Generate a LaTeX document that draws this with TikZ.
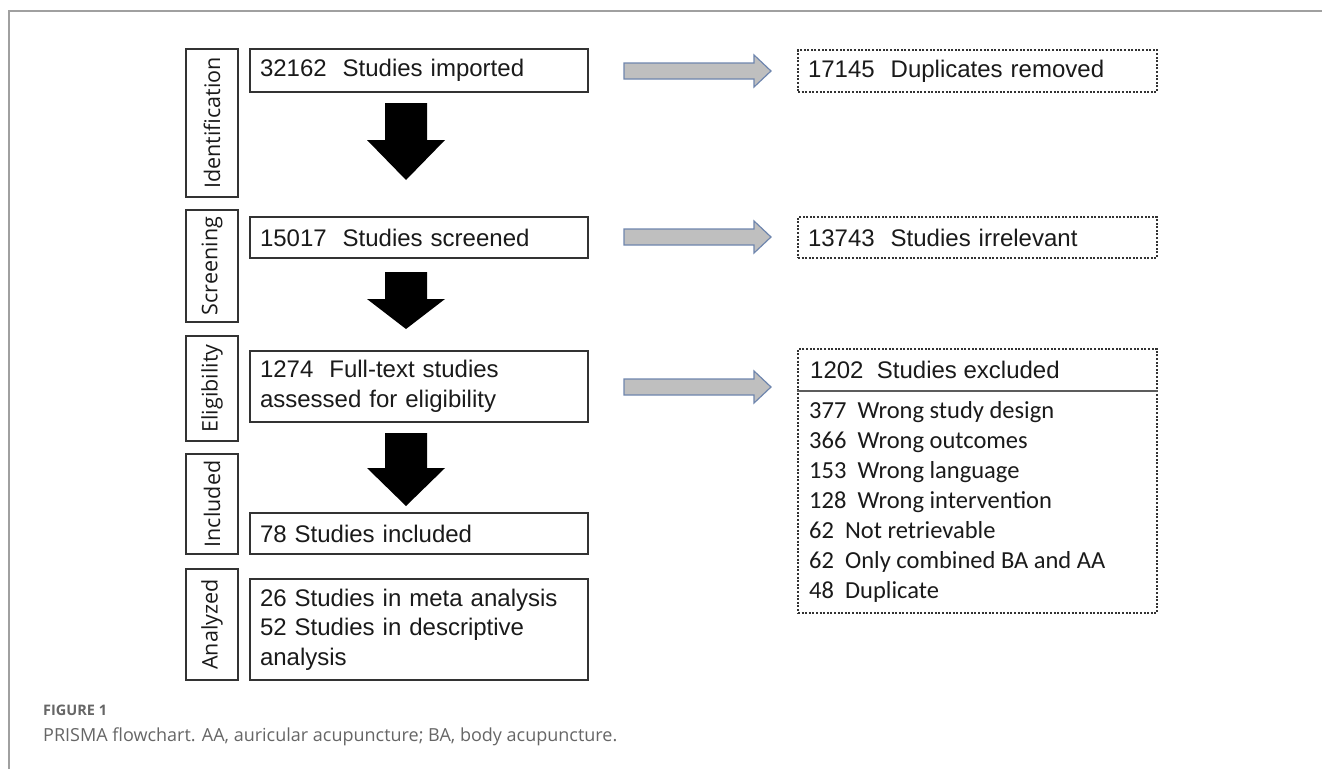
\documentclass[tikz,border=0pt]{standalone}
\usepackage{fontspec}
\setmainfont{Liberation Sans}
\newfontfamily\labfont{Open Sans}
\newfontfamily\listfont{Carlito}
\newfontfamily\capfont{Open Sans}
\definecolor{boxline}{HTML}{333333}
\definecolor{arrfill}{HTML}{BFBFBF}
\definecolor{arrline}{HTML}{6F86AE}
\definecolor{framecol}{HTML}{A0A0A0}
\definecolor{captext}{HTML}{666666}
\definecolor{txt}{HTML}{1A1A1A}
\tikzset{
  mainbox/.style={draw=boxline, line width=1.4pt, minimum width=338pt, text width=318pt,
    inner xsep=10pt, inner ysep=0pt, align=left, text=txt,
    font=\fontsize{24}{29.5}\selectfont},
  labelbox/.style={draw=boxline, line width=1.4pt, rotate=90, minimum height=52pt,
    inner sep=0pt, text=txt, font=\labfont\fontsize{21.5}{24}\selectfont},
  exclbox/.style={draw=boxline, line width=1.6pt, dash pattern=on 2pt off 1.6pt,
    minimum width=359pt, text width=339pt, inner xsep=10pt, inner ysep=0pt,
    align=left, text=txt, font=\fontsize{24}{29.5}\selectfont},
  grayarr/.style={fill=arrfill, draw=arrline, line width=1.2pt, line join=miter},
  blackarr/.style={fill=black, draw=none},
  captxt/.style={anchor=west, inner sep=0pt, text=captext}
}
\newcommand\grayarrow[1]{%
  \draw[grayarr] (624,#1-8) -- (754,#1-8) -- (754,#1-16) -- (771,#1) -- (754,#1+16)
    -- (754,#1+8) -- (624,#1+8) -- cycle;}
\newcommand\blackarrow[3]{%
  \fill[blackarr] (385,#1) -- (427,#1) -- (427,#2) -- (445,#2) -- (406,#3)
    -- (367,#2) -- (385,#2) -- cycle;}
\begin{document}
\begin{tikzpicture}[x=1pt,y=-1pt]
\useasboundingbox (0,0) rectangle (1322,769);
\fill[white] (0,0) rectangle (1322,769);
% frame
\draw[framecol, line width=1.3pt] (9,769) -- (9,11) -- (1322,11);

% stage labels
\node[labelbox, minimum width=148pt] (lid) at (212,123) {Identification};
\node[labelbox, minimum width=112pt] (lsc) at (212,266) {Screening};
\node[labelbox, minimum width=105pt] (lel) at (212,388.5) {Eligibility};
\node[labelbox, minimum width=100pt] (lin) at (212,504) {Included};
\node[labelbox, minimum width=111pt] (lan) at (212,624.5) {Analyzed};

% main boxes
\node[mainbox, minimum height=43pt] (imp) at (419,70.5) {32162~~Studies imported};
\node[mainbox, minimum height=41pt] (scr) at (419,237.5) {15017~~Studies screened};
\node[mainbox, minimum height=71pt] (full) at (419,386.5) {1274~~Full-text studies\\assessed for eligibility};
\node[mainbox, minimum height=41pt] (inc) at (419,533.5) {78 Studies included};
\node[mainbox, minimum height=101pt] (ana) at (419,629.5) {26 Studies in meta analysis\\52 Studies in descriptive\\analysis};

% right boxes
\node[exclbox, minimum height=42pt] (dup) at (977.5,71) {17145~~Duplicates removed};
\node[exclbox, minimum height=41pt] (irr) at (977.5,237.5) {13743~~Studies irrelevant};
\node[exclbox, minimum height=264pt] (exc) at (977.5,481) {};
\node[anchor=west, inner sep=0pt, text=txt, font=\fontsize{24}{29.5}\selectfont] (exch) at (810,370) {1202~~Studies excluded};
\draw[boxline!80, line width=2pt] (exc.west |- 0,391) -- (exc.east |- 0,391);
\node[anchor=west, inner sep=0pt, align=left, text=txt, font=\listfont\fontsize{24.5}{30}\selectfont] (excl) at (809,502)
  {377~~Wrong study design\\366~~Wrong outcomes\\153~~Wrong language\\128~~Wrong intervention\\62~~Not retrievable\\62~~Only combined BA and AA\\48~~Duplicate};

% gray block arrows
\grayarrow{71}
\grayarrow{237}
\grayarrow{387}

% black block arrows
\blackarrow{103}{140}{180}
\blackarrow{272}{299}{329}
\blackarrow{433}{468}{506}

% caption
\node[captxt, font=\capfont\bfseries\fontsize{14.5}{17}\selectfont] (fig) at (43,710) {FIGURE 1};
\node[captxt, font=\capfont\fontsize{18}{22}\selectfont] (cap) at (43,737) {PRISMA flowchart. AA, auricular acupuncture; BA, body acupuncture.};
\end{tikzpicture}
\end{document}
